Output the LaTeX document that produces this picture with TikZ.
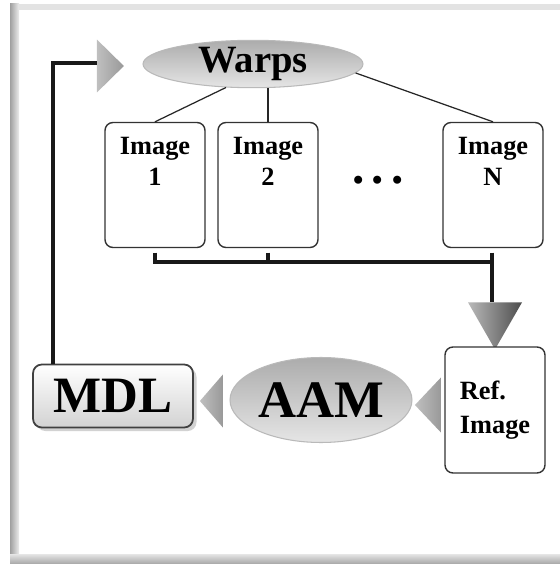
\documentclass[tikz,border=0pt]{standalone}
\usepackage{fontspec}
\setmainfont{Liberation Serif}
\usetikzlibrary{shapes.geometric,shadows}

\tikzset{
  imgbox/.style={draw=black!80, line width=0.8pt, rounded corners=4.5pt, fill=white,
    minimum width=2cm, minimum height=2.5cm, inner sep=0pt},
  boxtxt/.style={anchor=north, align=center, yshift=-5pt,
    font=\fontsize{15}{18}\selectfont\bfseries},
  bubble/.style={ellipse, draw=gray!55, line width=0.6pt, top color=gray!65,
    middle color=white, bottom color=gray!20, inner sep=0pt},
  mdlbox/.style={rectangle, rounded corners=5pt, draw=black!75, line width=1pt,
    top color=white, bottom color=gray!35, inner sep=0pt,
    drop shadow={shadow xshift=2pt, shadow yshift=-2pt, opacity=.35}},
  pointer/.style={isosceles triangle, isosceles triangle stretches, inner sep=0pt,
    left color=gray!50, right color=gray!80},
  bus/.style={line width=1.8pt, black!90},
  link/.style={line width=0.7pt, black!85},
}

\begin{document}
\begin{tikzpicture}[x=0.02cm, y=-0.02cm]
  \useasboundingbox (0,0) rectangle (560,564);
  % panel with its shaded rim
  \fill[white] (0,0) rectangle (560,564);
  \shade[left color=gray!75, right color=gray!15] (10,4) rectangle (19,564);
  \fill[gray!22] (19,4) rectangle (560,10);
  \shade[top color=gray!20, bottom color=gray!70] (10,554) rectangle (560,564);

  % top row
  \node[bubble, minimum width=4.4cm, minimum height=0.88cm,
    font=\fontsize{22}{24}\selectfont\bfseries] (warps) at (253,64) {Warps};
  % width = base, height = apex length
  \node[pointer, minimum width=1.06cm, minimum height=0.54cm] (arrW) at (108,66) {};

  \node[imgbox, label={[boxtxt]north:Image\\1}] (img1) at (155,185) {};
  \node[imgbox, label={[boxtxt]north:Image\\2}] (img2) at (268,185) {};
  \node[imgbox, label={[boxtxt]north:Image\\N}] (imgN) at (493,185) {};
  \node[font=\fontsize{28}{28}\selectfont\bfseries] (dots) at (378,180) {.\hspace{4pt}.\hspace{4pt}.};

  % bottom row
  \node[pointer, shape border rotate=270, minimum width=1.08cm, minimum height=0.94cm,
    left color=gray!55, right color=black!70] (arrD) at (495,318) {};
  \node[imgbox, minimum height=2.52cm, align=left,
    font=\fontsize{15}{19}\selectfont\bfseries] (ref) at (495,410) {Ref.\\Image};
  \node[bubble, minimum width=3.64cm, minimum height=1.7cm,
    font=\fontsize{30}{32}\selectfont\bfseries] (aam) at (321,400) {AAM};
  \node[pointer, shape border rotate=180, minimum width=1.1cm, minimum height=0.52cm] (arrR) at (430,405) {};
  \node[pointer, shape border rotate=180, minimum width=1.06cm, minimum height=0.46cm] (arrL) at (213,401) {};
  \node[mdlbox, minimum width=3.2cm, minimum height=1.26cm,
    font=\fontsize{29}{32}\selectfont\bfseries] (mdl) at (113,396) {MDL};

  % warps fan out to the images
  \draw[link] (warps.221) -- (img1.north);
  \draw[link] (warps.south -| img2.north) -- (img2.north);
  \draw[link] (warps.355) -- (imgN.north);

  % images gathered into the reference
  \coordinate (busR) at (492,262);
  \draw[bus, shorten <=2.5pt] (img1.south) |- (busR);
  \draw[bus, shorten <=2.5pt] (img2.south) -- (img2.south |- busR);
  \draw[bus, shorten <=2.5pt] (imgN.south -| busR) -- (arrD.north -| busR);

  % feedback from MDL back to the warps
  \coordinate (fb) at (53,63);
  \draw[bus] (mdl.north -| fb) -- (fb) -- (fb -| arrW.west);
\end{tikzpicture}
\end{document}
